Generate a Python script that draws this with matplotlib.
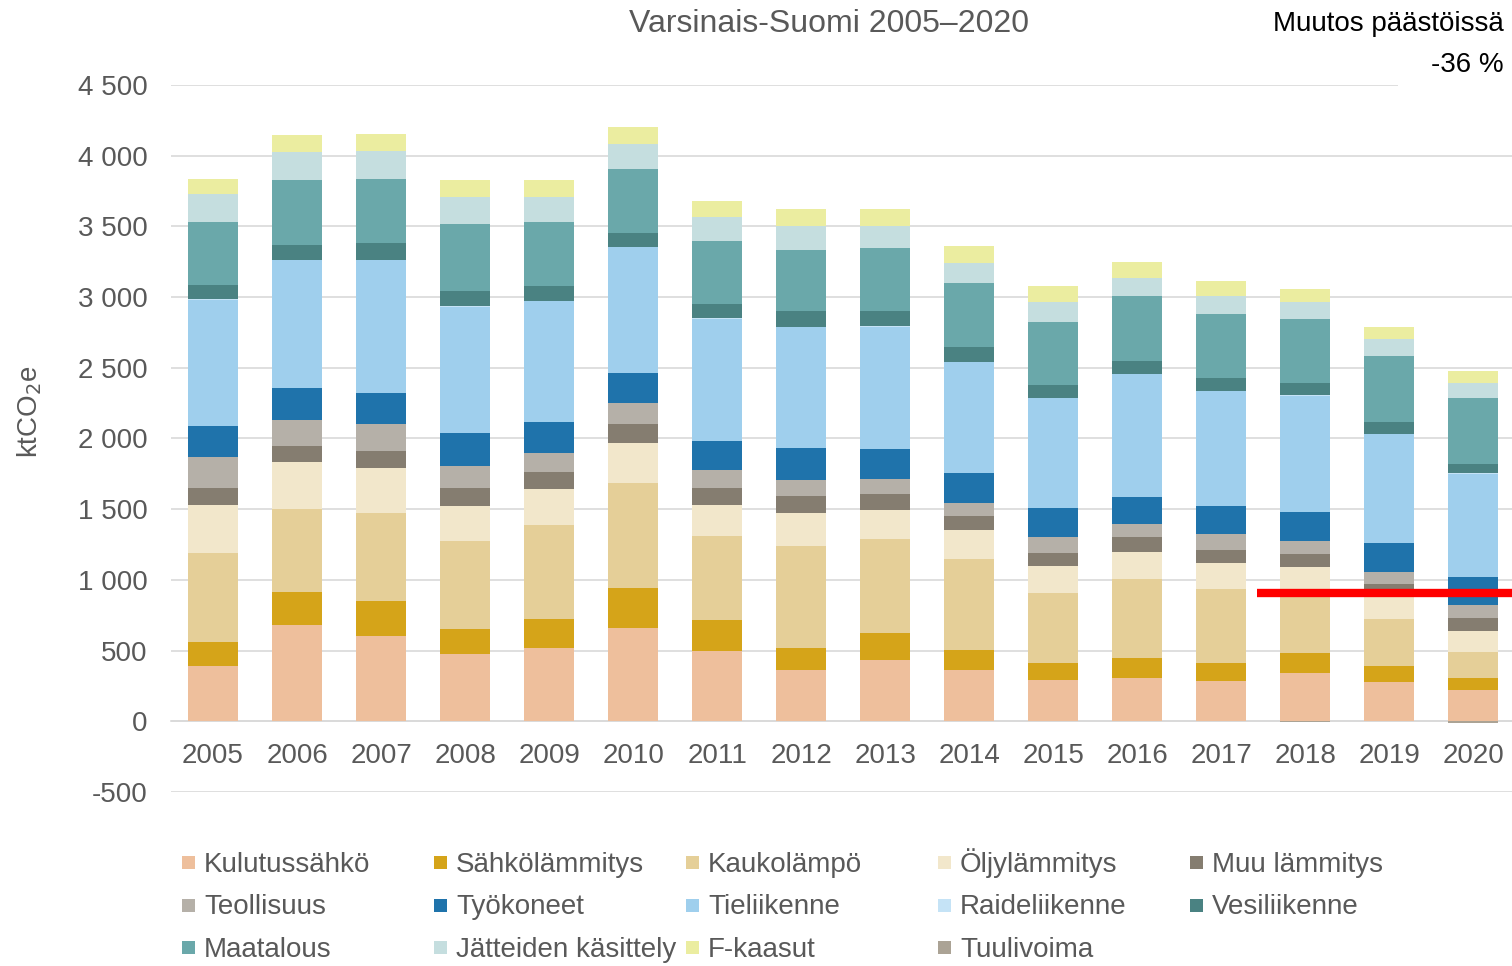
import matplotlib
matplotlib.use("Agg")
import matplotlib.pyplot as plt
from matplotlib.patches import Rectangle
from matplotlib.ticker import FuncFormatter, MultipleLocator
import numpy as np

plt.rcParams['font.family'] = ['Liberation Sans', 'DejaVu Sans']

# --- data (ktCO2e) ---
years = ['2005', '2006', '2007', '2008', '2009', '2010', '2011', '2012',
         '2013', '2014', '2015', '2016', '2017', '2018', '2019', '2020']

kulutussahko = [390, 682, 605, 473, 517, 663, 500, 366, 434, 360, 290, 308, 286, 344, 280, 220]
sahkolammitys = [171, 233, 244, 181, 209, 277, 217, 154, 188, 143, 119, 141, 125, 138, 108, 85]
kaukolampo = [627, 586, 624, 622, 659, 745, 597, 720, 665, 648, 501, 555, 527, 429, 332, 183]
oljylammitys = [340, 333, 317, 250, 256, 286, 217, 236, 206, 201, 186, 194, 184, 183, 190, 151]
muu_lammitys = [121, 110, 123, 121, 121, 132, 118, 116, 112, 99, 97, 102, 92, 87, 59, 89]
teollisuus = [220, 189, 190, 162, 135, 148, 127, 115, 106, 94, 109, 94, 109, 97, 90, 94]
tyokoneet = [218, 223, 217, 228, 220, 215, 203, 223, 213, 213, 203, 193, 200, 202, 200, 198]
tieliikenne = [896, 907, 943, 896, 855, 885, 869, 858, 868, 784, 779, 866, 813, 823, 774, 731]
raideliikenne = [2, 2, 2, 2, 2, 2, 2, 2, 2, 2, 2, 2, 2, 2, 2, 2]
vesiliikenne = [99, 105, 116, 105, 104, 99, 99, 109, 107, 102, 94, 91, 89, 89, 82, 66]
maatalous = [448, 456, 456, 475, 451, 456, 445, 437, 447, 454, 444, 464, 454, 451, 464, 464]
jatteet = [198, 201, 195, 193, 179, 174, 173, 168, 153, 143, 142, 127, 128, 118, 122, 109]
f_kaasut = [107, 120, 124, 121, 123, 120, 116, 118, 124, 119, 116, 109, 102, 95, 89, 85]
tuulivoima = [0, 0, 0, 0, 0, 0, 0, 0, 0, 0, 0, 0, 0, -8, 0, -10]

sector_names = ['Kulutussähkö', 'Sähkölämmitys', 'Kaukolämpö', 'Öljylämmitys', 'Muu lämmitys',
                'Teollisuus', 'Työkoneet', 'Tieliikenne', 'Raideliikenne', 'Vesiliikenne',
                'Maatalous', 'Jätteiden käsittely', 'F-kaasut', 'Tuulivoima']
sector_values = [kulutussahko, sahkolammitys, kaukolampo, oljylammitys, muu_lammitys,
                 teollisuus, tyokoneet, tieliikenne, raideliikenne, vesiliikenne,
                 maatalous, jatteet, f_kaasut, tuulivoima]
sector_colors = ['#EEBF9C', '#D5A419', '#E5CF98', '#F2E7CB', '#857D70',
                 '#B5B0A8', '#1F73AB', '#9FCFED', '#C5E3F6', '#4A8282',
                 '#6AA8AA', '#C5DEDF', '#EBEDA0', '#ABA395']

change_text = 'Muutos päästöissä'
change_pct = '-36 %'
red_level = 905          # reference line level
red_from = 12.43         # x-position (category index) where the red line starts

grey = '#595959'
grid = '#D9D9D9'
W, H = 1512, 966

fig = plt.figure(figsize=(15.12, 9.66), dpi=100)
ax = fig.add_axes([171 / W, 1 - 792 / H, 1341 / W, (792 - 85) / H])

x = np.arange(len(years))
pos_bottom = np.zeros(len(years))
neg_bottom = np.zeros(len(years))
for name, vals, col in zip(sector_names, sector_values, sector_colors):
    v = np.array(vals, dtype=float)
    bottom = np.where(v >= 0, pos_bottom, neg_bottom)
    ax.bar(x, v, 0.595, bottom=bottom, color=col, linewidth=0, zorder=3)
    pos_bottom += np.clip(v, 0, None)
    neg_bottom += np.clip(v, None, 0)

ax.plot([red_from, len(years)], [red_level, red_level], color='#FF0000',
        linewidth=6, solid_capstyle='butt', zorder=5, clip_on=False)

ax.set_xlim(-0.5, len(years) - 0.54)
ax.set_ylim(-500, 4500)
ax.yaxis.set_major_locator(MultipleLocator(500))
ax.yaxis.set_major_formatter(FuncFormatter(lambda v, p: f"{int(round(v)):,}".replace(',', ' ')))
ax.grid(axis='y', color=grid, linewidth=1.2, zorder=0)
ax.set_axisbelow(True)

for s in ['top', 'right', 'left']:
    ax.spines[s].set_visible(False)
ax.spines['bottom'].set_position(('data', 0))
ax.spines['bottom'].set_color(grid)
ax.spines['bottom'].set_linewidth(1.2)

ax.set_xticks(x)
ax.set_xticklabels(years)
ax.tick_params(axis='x', length=0, pad=15.5, labelsize=20, labelcolor=grey)
ax.tick_params(axis='y', length=0, pad=17, labelsize=20, labelcolor=grey)

ax.set_ylabel('ktCO$_2$e', fontsize=20, color=grey)
ax.yaxis.set_label_coords((44 - 171) / 1341, (792 - 412) / 707)

fig.text(829 / W, 1 - 24 / H, 'Varsinais-Suomi 2005–2020', ha='center', va='center',
         fontsize=23, color=grey)

# white box behind the change note (hides the top gridline end)
fig.add_artist(Rectangle((1398 / W, 1 - 92 / H), 114 / W, 92 / H,
                         transform=fig.transFigure, facecolor='white', edgecolor='none', zorder=4))
fig.text(1504 / W, 1 - 31 / H, change_text, ha='right', va='baseline', fontsize=20,
         color='black', zorder=6)
fig.text(1504 / W, 1 - 72 / H, change_pct, ha='right', va='baseline', fontsize=20,
         color='black', zorder=6)

# legend: five columns, filled row by row
for i, (name, col) in enumerate(zip(sector_names, sector_colors)):
    r, c = divmod(i, 5)
    cx = 182 + 252 * c
    cy = 862 + 42.5 * r
    fig.add_artist(Rectangle((cx / W, 1 - (cy + 7) / H), 13 / W, 13 / H,
                             transform=fig.transFigure, facecolor=col, edgecolor='none'))
    fig.text((cx + 22) / W, 1 - (cy + 10) / H, name, ha='left', va='baseline',
             fontsize=20, color=grey)

fig.savefig('out.png', dpi=100)
